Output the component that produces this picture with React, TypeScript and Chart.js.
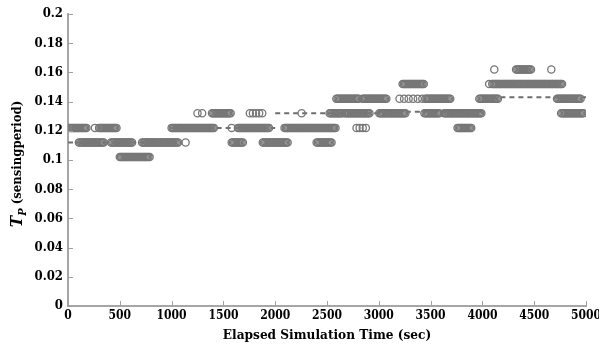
import { useEffect, useRef } from "react";
import { Chart, registerables } from "chart.js";

Chart.register(...registerables);

// Axis ticks
const xTicks = [0, 500, 1000, 1500, 2000, 2500, 3000, 3500, 4000, 4500, 5000];
const yTicks = [0, 0.02, 0.04, 0.06, 0.08, 0.1, 0.12, 0.14, 0.16, 0.18, 0.2];

// Observed sensing-period runs (markers): level, start time, end time, sample spacing (sec)
const runLevel = [
  0.102,
  0.112, 0.112, 0.112, 0.112, 0.112, 0.112, 0.112,
  0.122, 0.122, 0.122, 0.122, 0.122, 0.122, 0.122, 0.122, 0.122,
  0.132, 0.132, 0.132, 0.132, 0.132, 0.132, 0.132, 0.132, 0.132, 0.132,
  0.142, 0.142, 0.142, 0.142, 0.142, 0.142,
  0.152, 0.152, 0.152, 0.152,
  0.162, 0.162, 0.162,
];
const runStart = [
  500,
  105, 415, 715, 1135, 1580, 1880, 2400,
  10, 260, 300, 1000, 1580, 1640, 2090, 2785, 3760,
  1250, 1390, 1755, 2255, 2525, 2670, 3005, 3440, 3630, 4760,
  2590, 2845, 3200, 3450, 3970, 4720,
  3230, 4065, 4095, 4385,
  4115, 4325, 4665,
];
const runEnd = [
  790,
  345, 625, 1070, 1135, 1690, 2120, 2545,
  185, 260, 470, 1415, 1580, 1945, 2590, 2880, 3900,
  1295, 1580, 1880, 2255, 2650, 2910, 3265, 3585, 3990, 4980,
  2810, 3080, 3420, 3700, 4160, 4950,
  3440, 4065, 4375, 4770,
  4115, 4470, 4665,
];
const runStep = [
  12,
  12, 12, 12, 12, 12, 12, 12,
  12, 12, 12, 12, 12, 12, 12, 30, 12,
  45, 12, 30, 12, 12, 12, 12, 12, 12, 12,
  12, 12, 44, 12, 12, 12,
  12, 12, 12, 12,
  12, 12, 12,
];

// Windowed average (dashed line): one value per 1000-sec window
const avgStart = [0, 1000, 2000, 3000, 4000];
const avgEnd = [1000, 2000, 3000, 4000, 5000];
const avgValue = [0.112, 0.122, 0.132, 0.133, 0.143];

const FONT = "'DejaVu Serif Condensed', 'DejaVu Serif', serif";

function buildPoints() {
  const pts: { x: number; y: number }[] = [];
  for (let i = 0; i < runLevel.length; i++) {
    for (let t = runStart[i]; t <= runEnd[i]; t += runStep[i]) {
      pts.push({ x: t, y: runLevel[i] });
    }
  }
  return pts;
}

function buildAvg() {
  const pts: { x: number; y: number | null }[] = [];
  for (let i = 0; i < avgValue.length; i++) {
    pts.push({ x: avgStart[i], y: avgValue[i] });
    pts.push({ x: avgEnd[i], y: avgValue[i] });
    if (i < avgValue.length - 1) pts.push({ x: avgEnd[i], y: null });
  }
  return pts;
}

const decor = {
  id: "decor",
  afterDraw(chart: any) {
    const { ctx, chartArea: a, scales } = chart;
    const x = scales.x;
    const y = scales.y;
    ctx.save();
    ctx.strokeStyle = "#a0a0a0";
    ctx.lineWidth = 1;
    xTicks.forEach((v) => {
      const px = Math.round(x.getPixelForValue(v)) + 0.5;
      ctx.beginPath();
      ctx.moveTo(px, a.bottom);
      ctx.lineTo(px, a.bottom - 5);
      ctx.stroke();
    });
    yTicks.forEach((v) => {
      const py = Math.round(y.getPixelForValue(v)) + 0.5;
      ctx.beginPath();
      ctx.moveTo(a.left, py);
      ctx.lineTo(a.left + 5, py);
      ctx.stroke();
    });
    // Y title: T_P (sensingperiod)
    ctx.translate(18, 164);
    ctx.rotate(-Math.PI / 2);
    ctx.fillStyle = "#000";
    ctx.textBaseline = "middle";
    const fT = `italic bold 17px ${FONT}`;
    const fP = `italic bold 11px ${FONT}`;
    const fR = `bold 13px ${FONT}`;
    const s1 = "T";
    const s2 = "P";
    const s3 = " (sensingperiod)";
    ctx.font = fT;
    const w1 = ctx.measureText(s1).width;
    ctx.font = fP;
    const w2 = ctx.measureText(s2).width;
    ctx.font = fR;
    const w3 = ctx.measureText(s3).width;
    let cx = -(w1 + w2 + w3) / 2;
    ctx.textAlign = "left";
    ctx.font = fT;
    ctx.fillText(s1, cx, 0);
    cx += w1;
    ctx.font = fP;
    ctx.fillText(s2, cx, 5);
    cx += w2;
    ctx.font = fR;
    ctx.fillText(s3, cx, 0);
    ctx.restore();
  },
};

export default function App() {
  const ref = useRef<HTMLCanvasElement>(null);
  useEffect(() => {
    if (!ref.current) return;
    const chart = new Chart(ref.current, {
      type: "scatter",
      data: {
        datasets: [
          {
            type: "line",
            data: buildAvg(),
            borderColor: "#6e6e6e",
            borderWidth: 2,
            borderDash: [5, 4],
            pointRadius: 0,
            spanGaps: false,
            fill: false,
            order: 1,
          } as any,
          {
            data: buildPoints(),
            borderColor: "#777777",
            backgroundColor: "rgba(0,0,0,0)",
            borderWidth: 1.3,
            pointRadius: 3.6,
            pointHoverRadius: 3.6,
            order: 0,
          },
        ],
      },
      options: {
        animation: false,
        responsive: false,
        devicePixelRatio: 1,
        layout: { padding: { top: 14, right: 13, left: 0, bottom: 0 } },
        plugins: { legend: { display: false }, tooltip: { enabled: false } },
        scales: {
          x: {
            type: "linear",
            min: 0,
            max: 5000,
            afterBuildTicks: (s: any) => {
              s.ticks = xTicks.map((v) => ({ value: v }));
            },
            afterFit: (s: any) => {
              s.height = 38;
              s.paddingLeft = 0;
              s.paddingRight = 0;
            },
            ticks: {
              autoSkip: false,
              maxRotation: 0,
              padding: 3,
              color: "#000",
              font: { family: FONT, weight: "bold", size: 12 },
              callback: (v: any) => String(v),
            },
            grid: { display: true, drawOnChartArea: false, drawTicks: false },
            border: { display: true, color: "#a6a6a6", width: 2 },
            title: {
              display: true,
              text: "Elapsed Simulation Time (sec)",
              color: "#000",
              padding: { top: 0, bottom: 0 },
              font: { family: FONT, weight: "bold", size: 13.5 },
            },
          },
          y: {
            type: "linear",
            min: 0,
            max: 0.2,
            afterBuildTicks: (s: any) => {
              s.ticks = yTicks.map((v) => ({ value: v }));
            },
            afterFit: (s: any) => {
              s.width = 68;
              s.paddingTop = 0;
              s.paddingBottom = 0;
            },
            ticks: {
              autoSkip: false,
              padding: 5,
              color: "#000",
              font: { family: FONT, weight: "bold", size: 13 },
              callback: (v: any) => String(Math.round(Number(v) * 100) / 100),
            },
            grid: { display: true, drawOnChartArea: false, drawTicks: false },
            border: { display: true, color: "#a6a6a6", width: 2 },
          },
        },
      },
      plugins: [decor],
    });
    return () => chart.destroy();
  }, []);
  return (
    <div style={{ position: "fixed", left: 0, top: 0, width: 599, height: 344, background: "#fff" }}>
      <canvas ref={ref} width={599} height={344} />
    </div>
  );
}
